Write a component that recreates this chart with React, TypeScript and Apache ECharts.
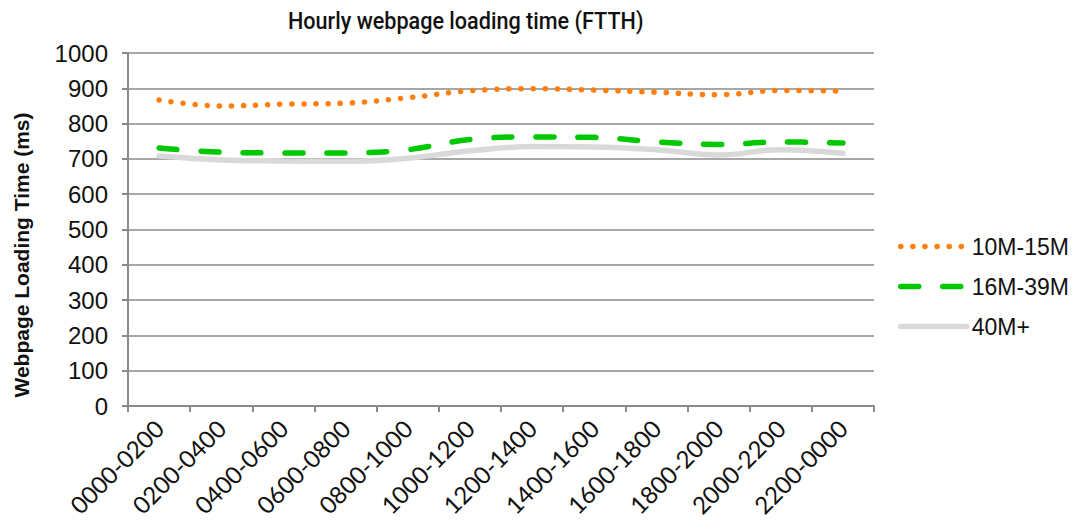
import React, { useEffect, useRef } from "react";
import * as echarts from "echarts";

const categories = [
  "0000-0200", "0200-0400", "0400-0600", "0600-0800", "0800-1000", "1000-1200",
  "1200-1400", "1400-1600", "1600-1800", "1800-2000", "2000-2200", "2200-0000",
];
const s10to15 = [867, 850, 855, 858, 873, 893, 899, 895, 889, 882, 894, 892];
const s16to39 = [731, 719, 717, 717, 726, 755, 762, 761, 748, 741, 748, 745];
const s40plus = [708, 697, 694, 693, 702, 723, 735, 734, 726, 711, 726, 716];
const yTicks = { min: 0, max: 1000, interval: 100 };

const gray = "#8a8a8a";
const orange = "#ff7f0e";
const green = "#00c800";
const light = "#d9d9d9";
const dotStyle = { color: orange, width: 5.5, type: [0.1, 12], cap: "round" };
const dashStyle = { color: green, width: 5.5, type: [18, 24], cap: "round" };
const solidStyle = { color: light, width: 5.5, type: "solid", cap: "round" };

export default function App() {
  const ref = useRef<HTMLDivElement>(null);
  useEffect(() => {
    if (!ref.current) return;
    const chart = echarts.init(ref.current, undefined, { renderer: "svg" });
    chart.setOption({
      animation: false,
      backgroundColor: "#ffffff",
      graphic: [
        {
          type: "text",
          x: 288,
          y: 21,
          scaleX: 0.9,
          style: {
            text: "Hourly webpage loading time (FTTH)",
            fill: "#111",
            font: "500 24px Roboto, 'Open Sans', sans-serif",
            textAlign: "left",
            textVerticalAlign: "middle",
          },
        },
        {
          type: "text",
          x: 21,
          y: 255,
          rotation: Math.PI / 2,
          style: {
            text: "Webpage Loading Time (ms)",
            fill: "#111",
            font: "bold 21px 'Liberation Sans', Arial, sans-serif",
            textAlign: "center",
            textVerticalAlign: "middle",
          },
        },
      ],
      legend: {
        orient: "vertical",
        left: 893,
        top: 230,
        itemWidth: 66,
        itemHeight: 14,
        itemGap: 17,
        itemStyle: { opacity: 0 },
        textStyle: {
          fontFamily: "'Liberation Sans', Arial, sans-serif",
          fontSize: 23,
          color: "#111",
          padding: [0, 0, 0, 0],
        },
        data: [
          { name: "10M-15M", lineStyle: dotStyle },
          { name: "16M-39M", lineStyle: dashStyle },
          { name: "40M+", lineStyle: solidStyle },
        ],
      },
      grid: { left: 128, right: 203, top: 53, bottom: 119, containLabel: false },
      xAxis: {
        type: "category",
        data: categories,
        boundaryGap: true,
        axisLine: { lineStyle: { color: gray, width: 2 } },
        axisTick: { show: true, length: 6, lineStyle: { color: gray, width: 2 } },
        axisLabel: {
          rotate: 45,
          interval: 0,
          margin: 18,
          fontFamily: "Lato, 'Open Sans', sans-serif",
          fontSize: 24,
          color: "#111",
        },
      },
      yAxis: {
        type: "value",
        min: yTicks.min,
        max: yTicks.max,
        interval: yTicks.interval,
        axisLine: { show: true, lineStyle: { color: gray, width: 2 } },
        axisTick: { show: true, length: 6, lineStyle: { color: gray, width: 2 } },
        splitLine: { show: true, lineStyle: { color: gray, width: 1.5 } },
        axisLabel: {
          margin: 20,
          formatter: (v: number) => String(v),
          fontFamily: "'Liberation Sans', Arial, sans-serif",
          fontSize: 24,
          color: "#111",
        },
      },
      series: [
        {
          name: "10M-15M",
          type: "line",
          data: s10to15,
          smooth: 0.4,
          symbol: "none",
          color: orange,
          lineStyle: dotStyle,
          z: 4,
        },
        {
          name: "16M-39M",
          type: "line",
          data: s16to39,
          smooth: 0.4,
          symbol: "none",
          color: green,
          lineStyle: dashStyle,
          z: 3,
        },
        {
          name: "40M+",
          type: "line",
          data: s40plus,
          smooth: 0.4,
          symbol: "none",
          color: light,
          lineStyle: solidStyle,
          z: 2,
        },
      ],
    });
    return () => chart.dispose();
  }, []);
  return <div ref={ref} style={{ width: 1077, height: 525, position: "absolute", left: 0, top: 0 }} />;
}
